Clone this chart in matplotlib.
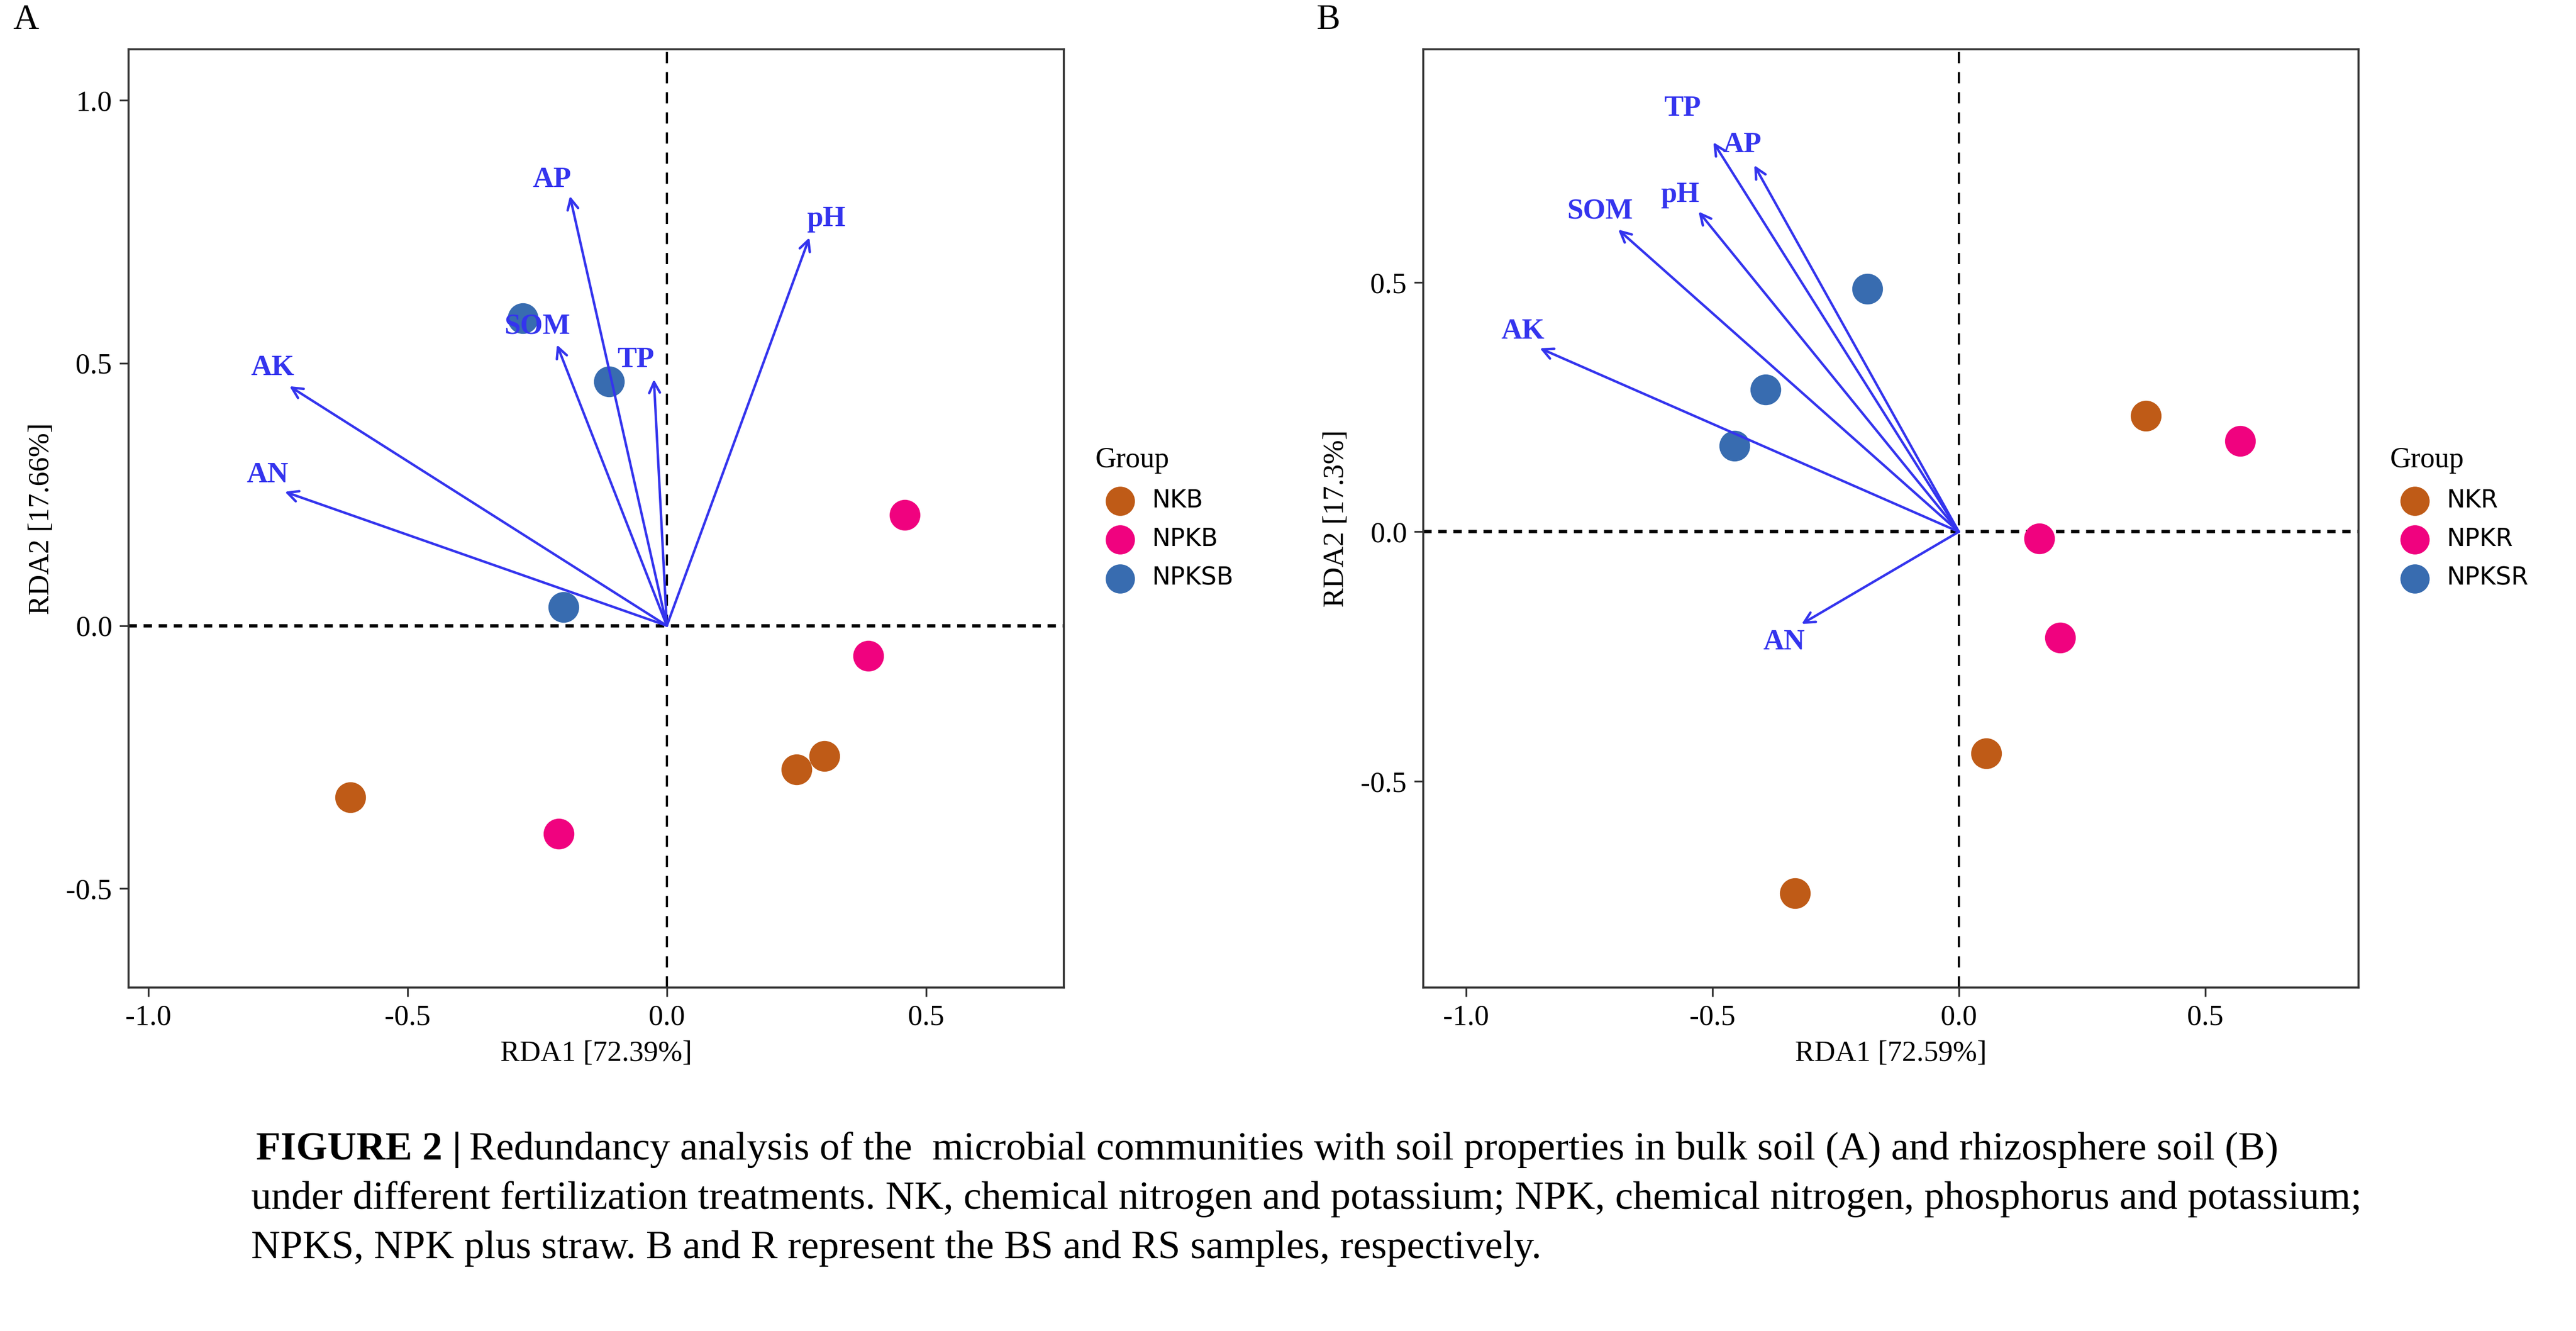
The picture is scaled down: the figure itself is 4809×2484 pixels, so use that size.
import matplotlib
matplotlib.use("Agg")
import matplotlib.pyplot as plt

plt.rcParams['font.family'] = ['Liberation Serif', 'DejaVu Serif']
plt.rcParams['axes.unicode_minus'] = False

groups_a = ['NKB', 'NPKB', 'NPKSB']
groups_b = ['NKR', 'NPKR', 'NPKSR']
group_colors = ['#BF5B17', '#F0027F', '#386CB0']

# sample scores, panel A (bulk soil)
site_x_a = [[-0.611, 0.250, 0.304], [0.459, 0.389, -0.209], [-0.278, -0.111, -0.199]]
site_y_a = [[-0.327, -0.274, -0.248], [0.211, -0.057, -0.396], [0.585, 0.465, 0.035]]
# sample scores, panel B (rhizosphere soil)
site_x_b = [[0.379, 0.056, -0.332], [0.571, 0.163, 0.206], [-0.186, -0.392, -0.455]]
site_y_b = [[0.232, -0.444, -0.725], [0.182, -0.013, -0.212], [0.487, 0.285, 0.172]]

env_a = ['AP', 'pH', 'SOM', 'TP', 'AK', 'AN']
env_x_a = [-0.187, 0.275, -0.212, -0.025, -0.728, -0.737]
env_y_a = [0.818, 0.739, 0.535, 0.469, 0.456, 0.255]
lab_x_a = [-0.222, 0.307, -0.250, -0.060, -0.760, -0.770]
lab_y_a = [0.849, 0.774, 0.569, 0.506, 0.490, 0.286]

env_b = ['TP', 'AP', 'pH', 'SOM', 'AK', 'AN']
env_x_b = [-0.498, -0.415, -0.528, -0.691, -0.850, -0.319]
env_y_b = [0.781, 0.735, 0.642, 0.606, 0.368, -0.185]
lab_x_b = [-0.561, -0.439, -0.565, -0.728, -0.884, -0.355]
lab_y_b = [0.848, 0.775, 0.675, 0.642, 0.401, -0.222]

arrow_color = '#3434EE'


def rda_panel(ax, groups, sx, sy, env, ex, ey, lx, ly, xlab, ylab, xlim, ylim, yticks):
    ax.axhline(0, color='black', lw=1.5, dashes=(2.5, 2), zorder=1)
    ax.axvline(0, color='black', lw=1.0, dashes=(5, 4), zorder=1)
    for name, xs, ys, c in zip(groups, sx, sy, group_colors):
        ax.scatter(xs, ys, s=190, color=c, label=name, zorder=2, linewidths=0)
    for name, x, y, tx, ty in zip(env, ex, ey, lx, ly):
        ax.annotate('', xy=(x, y), xytext=(0, 0),
                    arrowprops=dict(arrowstyle='->', color=arrow_color, lw=1.1,
                                    shrinkA=0, shrinkB=0, mutation_scale=12), zorder=3)
        ax.text(tx, ty, name, color=arrow_color, fontsize=13, fontweight='bold',
                ha='center', va='center', zorder=4)
    ax.set_xlim(xlim)
    ax.set_ylim(ylim)
    ax.set_xticks([-1.0, -0.5, 0.0, 0.5])
    ax.set_yticks(yticks)
    ax.set_xticklabels(['%.1f' % v for v in [-1.0, -0.5, 0.0, 0.5]])
    ax.set_yticklabels(['%.1f' % v for v in yticks])
    ax.tick_params(labelsize=13, length=4, width=0.8, color='#333333')
    for sp in ax.spines.values():
        sp.set_color('#333333')
        sp.set_linewidth(0.9)
    ax.set_xlabel(xlab, fontsize=13, labelpad=4)
    ax.set_ylabel(ylab, fontsize=13, labelpad=5)
    leg = ax.legend(title='Group', loc='center left', bbox_to_anchor=(1.01, 0.5),
                    frameon=False, prop={'family': 'DejaVu Sans', 'size': 11},
                    title_fontsize=13, handletextpad=0.3, labelspacing=0.6,
                    markerscale=0.95, borderaxespad=0.5)
    leg._legend_box.align = 'left'


fig = plt.figure(figsize=(16.03, 8.28), dpi=300)
ax_a = fig.add_axes([0.050, 0.258, 0.3630, 0.7048])
ax_b = fig.add_axes([0.5526, 0.258, 0.3630, 0.7048])

rda_panel(ax_a, groups_a, site_x_a, site_y_a, env_a, env_x_a, env_y_a, lab_x_a, lab_y_a,
          'RDA1 [72.39%]', 'RDA2 [17.66%]', (-1.038, 0.766), (-0.689, 1.097),
          [-0.5, 0.0, 0.5, 1.0])
rda_panel(ax_b, groups_b, site_x_b, site_y_b, env_b, env_x_b, env_y_b, lab_x_b, lab_y_b,
          'RDA1 [72.59%]', 'RDA2 [17.3%]', (-1.086, 0.811), (-0.914, 0.967),
          [-0.5, 0.0, 0.5])

fig.text(0.005, 0.985, 'A', fontsize=16, va='center', ha='left')
fig.text(0.511, 0.985, 'B', fontsize=16, va='center', ha='left')

# caption
cap_size = 18
bold = fig.text(0.0994, 0.136, 'FIGURE 2 |', fontsize=cap_size, fontweight='bold',
                va='center', ha='left')
fig.canvas.draw()
bb = bold.get_window_extent(renderer=fig.canvas.get_renderer())
x_after = bb.x1 / fig.bbox.width + 0.003
fig.text(x_after, 0.136,
         'Redundancy analysis of the  microbial communities with soil properties in bulk soil (A) and rhizosphere soil (B)',
         fontsize=cap_size, va='center', ha='left')
fig.text(0.0975, 0.099,
         'under different fertilization treatments. NK, chemical nitrogen and potassium; NPK, chemical nitrogen, phosphorus and potassium;',
         fontsize=cap_size, va='center', ha='left')
fig.text(0.0975, 0.062,
         'NPKS, NPK plus straw. B and R represent the BS and RS samples, respectively.',
         fontsize=cap_size, va='center', ha='left')

fig.savefig('out.png', dpi=300)
